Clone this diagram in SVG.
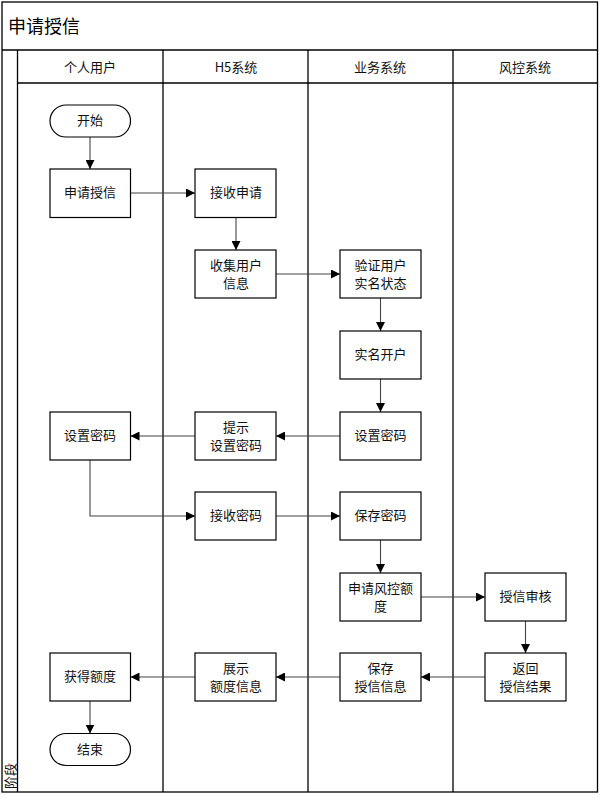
<svg xmlns="http://www.w3.org/2000/svg" width="604" height="800" viewBox="0 0 604 800">
<style>
.frame{fill:none;stroke:#000;stroke-width:1.3}
.box{fill:#fff;stroke:#000;stroke-width:1.2}
.t{font-family:"Noto Sans CJK SC","Microsoft YaHei",sans-serif;font-size:13px;fill:#111;text-anchor:middle;dominant-baseline:central}
.title{font-family:"Noto Sans CJK SC",sans-serif;font-size:18px;fill:#000;dominant-baseline:central}
.c{fill:none;stroke:#444;stroke-width:1.1;marker-end:url(#ah)}
</style>
<defs>
<marker id="ah" viewBox="0 0 10 10" refX="10" refY="5" markerWidth="9" markerHeight="9" markerUnits="userSpaceOnUse" orient="auto">
<path d="M0,0 L10,5 L0,10 z" fill="#000"/>
</marker>
</defs>
<rect width="604" height="800" fill="#fff"/>
<g id="pool">
<rect class="frame" x="2" y="2" width="595.5" height="790"/>
<line class="frame" x1="2" y1="50" x2="597.5" y2="50"/>
<line class="frame" x1="17.5" y1="83" x2="597.5" y2="83"/>
<line class="frame" x1="17.5" y1="50" x2="17.5" y2="792"/>
<line class="frame" x1="163" y1="50" x2="163" y2="792"/>
<line class="frame" x1="308" y1="50" x2="308" y2="792"/>
<line class="frame" x1="453" y1="50" x2="453" y2="792"/>
<text class="title" x="8" y="25">申请授信</text>
<text class="t" x="90" y="66">个人用户</text>
<text class="t" x="236" y="66">H5系统</text>
<text class="t" x="380" y="66">业务系统</text>
<text class="t" x="525" y="66">风控系统</text>
<text class="t" transform="translate(9.5,776) rotate(-90)">阶段</text>
</g>
<g id="connectors">
<path class="c" d="M90,137 V169"/>
<path class="c" d="M130.5,193 H195"/>
<path class="c" d="M236,217.5 V250"/>
<path class="c" d="M276,274 H340"/>
<path class="c" d="M380.5,298 V331"/>
<path class="c" d="M380.5,379 V412"/>
<path class="c" d="M340,436 H276"/>
<path class="c" d="M195,436 H130.5"/>
<path class="c" d="M90,460 V516 H195"/>
<path class="c" d="M276,516 H340"/>
<path class="c" d="M380.5,540 V573"/>
<path class="c" d="M421,597 H485"/>
<path class="c" d="M525.5,621 V653"/>
<path class="c" d="M485,677 H421"/>
<path class="c" d="M340,677 H276"/>
<path class="c" d="M195,677 H130.5"/>
<path class="c" d="M90,701 V733.5"/>
</g>
<g id="start"><rect class="box" x="50" y="105" width="80.5" height="32" rx="16"/><text class="t" x="90" y="119.5">开始</text></g>
<g id="apply"><rect class="box" x="50" y="169" width="80.5" height="48.5"/><text class="t" x="90" y="191.5">申请授信</text></g>
<g id="receiveApply"><rect class="box" x="195" y="169" width="81" height="48.5"/><text class="t" x="236" y="191.5">接收申请</text></g>
<g id="collect"><rect class="box" x="195" y="250" width="81" height="48"/><text class="t" x="236" y="264">收集用户</text><text class="t" x="236" y="282">信息</text></g>
<g id="verify"><rect class="box" x="340" y="250" width="81" height="48"/><text class="t" x="380.5" y="264">验证用户</text><text class="t" x="380.5" y="282">实名状态</text></g>
<g id="openAccount"><rect class="box" x="340" y="331" width="81" height="48"/><text class="t" x="380.5" y="353.5">实名开户</text></g>
<g id="setPwdBiz"><rect class="box" x="340" y="412" width="81" height="48"/><text class="t" x="380.5" y="434.5">设置密码</text></g>
<g id="promptPwd"><rect class="box" x="195" y="412" width="81" height="48"/><text class="t" x="236" y="426">提示</text><text class="t" x="236" y="444">设置密码</text></g>
<g id="setPwdUser"><rect class="box" x="50" y="412" width="80.5" height="48"/><text class="t" x="90" y="434.5">设置密码</text></g>
<g id="receivePwd"><rect class="box" x="195" y="492" width="81" height="48"/><text class="t" x="236" y="514.5">接收密码</text></g>
<g id="savePwd"><rect class="box" x="340" y="492" width="81" height="48"/><text class="t" x="380.5" y="514.5">保存密码</text></g>
<g id="applyRisk"><rect class="box" x="340" y="573" width="81" height="48"/><text class="t" x="380.5" y="587">申请风控额</text><text class="t" x="380.5" y="605">度</text></g>
<g id="review"><rect class="box" x="485" y="573" width="81" height="48"/><text class="t" x="525.5" y="595.5">授信审核</text></g>
<g id="returnResult"><rect class="box" x="485" y="653" width="81" height="48"/><text class="t" x="525.5" y="667">返回</text><text class="t" x="525.5" y="685">授信结果</text></g>
<g id="saveCredit"><rect class="box" x="340" y="653" width="81" height="48"/><text class="t" x="380.5" y="667">保存</text><text class="t" x="380.5" y="685">授信信息</text></g>
<g id="showQuota"><rect class="box" x="195" y="653" width="81" height="48"/><text class="t" x="236" y="667">展示</text><text class="t" x="236" y="685">额度信息</text></g>
<g id="getQuota"><rect class="box" x="50" y="653" width="80.5" height="48"/><text class="t" x="90" y="675.5">获得额度</text></g>
<g id="end"><rect class="box" x="50" y="733.5" width="80.5" height="32" rx="16"/><text class="t" x="90" y="748">结束</text></g>
</svg>
